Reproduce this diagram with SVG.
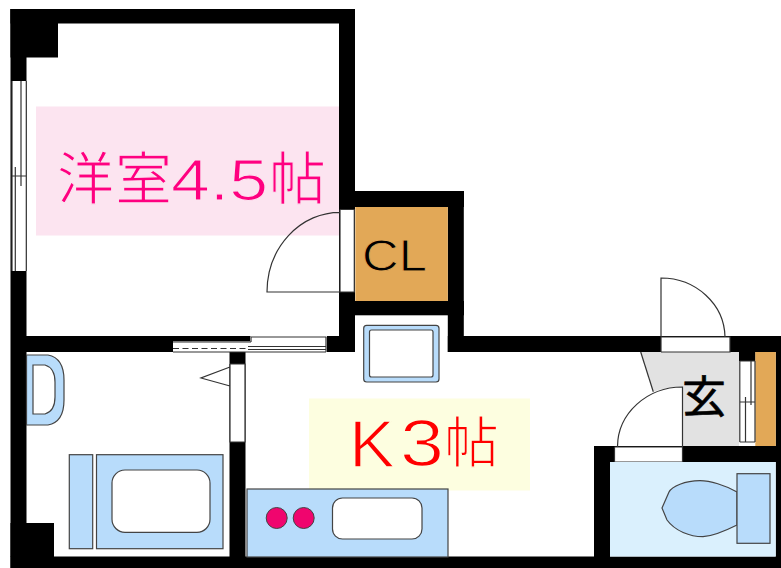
<svg xmlns="http://www.w3.org/2000/svg" width="781" height="568" viewBox="0 0 781 568">
<style>
.ln{fill:none;stroke:#333;stroke-width:1.2}
.fx{fill:#b8dcfb;stroke:#444;stroke-width:1.2}
.wh{fill:#fff;stroke:#444;stroke-width:1.2}
.op{fill:#fff}
.wl{fill:#000}
.or{fill:#e2a857}
.cjk{font-family:"Noto Sans CJK JP","Noto Sans",sans-serif}
.lat{font-family:"Liberation Sans",Arial,sans-serif}
.pk{fill:#ff0080;stroke:#fce4f0;stroke-width:1.2}
.rd{fill:#ff0000;stroke:#fdfee0;stroke-width:1.4}
</style>
<rect width="781" height="568" fill="#fff"/>
<g id="walls">
<rect class="wl" x="10.500" y="9" width="344.500" height="14.500"/>
<rect class="wl" x="10.500" y="9" width="47.500" height="48.500"/>
<rect class="wl" x="10.500" y="9" width="16" height="559"/>
<rect class="wl" x="339" y="9" width="16" height="343"/>
<rect class="wl" x="339" y="191" width="125" height="16"/>
<rect class="wl" x="339" y="301" width="125" height="14.300"/>
<rect class="wl" x="447.800" y="191" width="16" height="161"/>
<rect class="wl" x="447.800" y="336" width="333.200" height="16"/>
<rect class="wl" x="26" y="336" width="147" height="16"/>
<rect class="wl" x="173" y="336" width="78" height="5.500"/>
<rect class="wl" x="326.700" y="336" width="15" height="16"/>
<rect class="wl" x="229.500" y="352" width="16" height="205"/>
<rect class="wl" x="10.500" y="523" width="43.500" height="34"/>
<rect class="wl" x="10.500" y="556.500" width="770.500" height="11.500"/>
<rect class="wl" x="594" y="446" width="187" height="16"/>
<rect class="wl" x="594" y="446" width="16" height="112"/>
<rect class="wl" x="775.700" y="336" width="5.300" height="232"/>
<rect class="wl" x="739" y="352" width="16.500" height="9"/>
</g>
<g id="closet">
<rect class="or" x="355.300" y="207" width="92.500" height="94"/>
<text class="lat" x="362" y="271" font-size="45" textLength="65" lengthAdjust="spacingAndGlyphs" fill="#000" stroke="#e2a857" stroke-width=".9">CL</text>
</g>
<g id="western-room">
<rect x="36" y="106.500" width="303" height="129" fill="#fce4f0"/>
<text class="cjk pk" x="57" y="199" font-size="57">洋</text>
<text class="cjk pk" x="115" y="199" font-size="57">室</text>
<text class="lat pk" x="171" y="200" font-size="58" textLength="97" lengthAdjust="spacingAndGlyphs">4.5</text>
<text class="cjk pk" x="269" y="199" font-size="57">帖</text>
<rect class="op" x="12" y="81" width="14.500" height="190"/>
<path class="ln" d="M12 81V271M26.300 81V271M21 81V186M15.300 167V271M12 176H26.300"/>
</g>
<g id="kitchen">
<rect x="309" y="398.500" width="221" height="92" fill="#fdfee0"/>
<text class="lat rd" x="349" y="467" font-size="66" textLength="46" lengthAdjust="spacingAndGlyphs">K</text>
<text class="lat rd" x="400" y="466" font-size="66" textLength="44" lengthAdjust="spacingAndGlyphs">3</text>
<text class="cjk rd" x="444" y="462" font-size="55">帖</text>
<rect class="fx" x="363.700" y="325.300" width="75.300" height="56.700" rx="3"/>
<rect class="wh" x="369.500" y="330" width="63.500" height="47" rx="2"/>
<rect class="fx" x="247" y="489" width="201" height="68"/>
<circle cx="276.700" cy="518" r="10.500" fill="#f0056e" stroke="#444"/>
<circle cx="303.700" cy="518" r="10.500" fill="#f0056e" stroke="#444"/>
<rect class="wh" x="332.500" y="498" width="89.500" height="41" rx="10"/>
</g>
<g id="doors">
<rect class="op" x="340" y="209.500" width="14.300" height="82.500"/>
<path class="ln" d="M340 209.500V292H267A73 80 0 0 1 340 212.300M340 209.500H354.300V292H340"/>
<rect class="op" x="173" y="341.500" width="153.700" height="10.500"/>
<rect class="op" x="250" y="336.500" width="76.700" height="6"/>
<path class="ln" d="M173 342H251M251 337H326M251 337V342M326 337V352M248 346.500H326M248 349.500H326M173 352H326"/>
<path class="ln" d="M173 348.500H248" stroke-dasharray="6 3.500"/>
<rect class="op" x="230" y="364" width="15" height="78"/>
<path class="ln" d="M230 364V442H245V364H230M230 367L201 378L230 386"/>
</g>
<g id="bath">
<path class="fx" d="M26.500 355H48Q64 358 64 380V400Q64 422 48 425H26.500Z"/>
<path class="wh" d="M33 365H45Q55 368 55 382V397Q55 411 45 414H33Z"/>
<rect class="fx" x="69.300" y="454.700" width="23.400" height="94"/>
<rect class="fx" x="96.500" y="454.700" width="126.500" height="94"/>
<rect class="wh" x="112" y="470" width="98" height="62.300" rx="13"/>
</g>
<g id="entrance">
<path d="M640.700 352H739V446H682V387A65 60 0 0 0 653.300 391.700Z" fill="#e2e2e2"/>
<path class="ln" d="M640.700 352L653.300 391.700"/>
<rect class="or" x="755.300" y="352" width="20.500" height="94"/>
<rect class="op" x="739.500" y="361" width="15.500" height="81"/>
<path class="ln" d="M739.800 361V442M755 361V442M751 361V405M745.500 397V442M739.800 402H755M739.800 361H755M739.800 442H755"/>
<text class="cjk" x="682" y="413" font-size="44" fill="#000" stroke="#000" stroke-width=".6">玄</text>
<rect class="op" x="661" y="337" width="69" height="15"/>
<path class="ln" d="M661 352V278A64 60 0 0 1 725 337M661 337H730V352H661"/>
<rect class="op" x="614.500" y="447" width="68" height="15"/>
<path class="ln" d="M682.500 462V387A65 60 0 0 0 617.500 446.500M614.500 447H682.500M614.500 447V462H682.500"/>
</g>
<g id="toilet">
<rect x="610" y="462" width="165.700" height="94.500" fill="#daf0fd"/>
<path class="fx" d="M737 492C725 485 710 480.700 700 480.700C685 481 672 486 669 492L662 508L667 520C675 531 690 536.700 703 536.700C715 536 727 530 737 525Z"/>
<rect class="fx" x="737" y="473.700" width="33" height="69.600"/>
</g>
</svg>
